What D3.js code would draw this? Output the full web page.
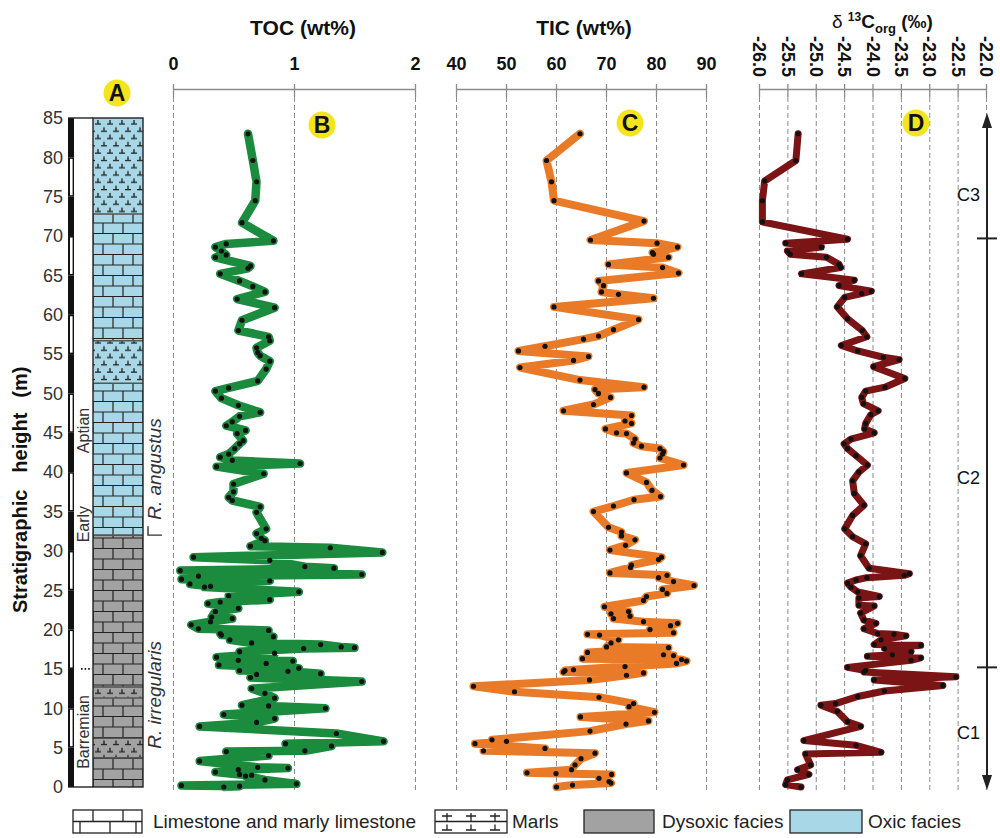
<!DOCTYPE html>
<html>
<head>
<meta charset="utf-8">
<script src="https://cdn.jsdelivr.net/npm/d3@7"></script>
<style>
  body { margin: 0; background: #fff; }
  svg { display: block; font-family: "Liberation Sans", Arial, sans-serif; }
</style>
</head>
<body>
<svg id="chart" width="1000" height="838"></svg>
<script>
// ---------------- data ----------------
// [stratigraphic height (m), TOC (wt%)]
const tocSamples = [
  [83.0,0.62],[79.6,0.66],[76.9,0.69],[74.5,0.68],[71.7,0.57],[69.4,0.83],[69.0,0.44],[68.6,0.35],
  [68.1,0.40],[67.6,0.44],[67.3,0.35],[66.2,0.64],[65.9,0.62],[65.2,0.39],[64.3,0.55],[63.6,0.66],
  [62.9,0.76],[62.0,0.53],[60.9,0.84],[59.3,0.57],[58.0,0.54],[57.2,0.79],[56.7,0.80],[55.8,0.69],
  [55.2,0.70],[54.8,0.72],[54.1,0.80],[53.1,0.77],[51.6,0.70],[50.7,0.46],[50.3,0.35],[49.4,0.40],
  [48.5,0.54],[47.6,0.72],[47.1,0.55],[46.4,0.49],[45.9,0.44],[45.3,0.60],[44.9,0.53],[44.0,0.58],
  [43.6,0.55],[43.0,0.51],[42.3,0.46],[41.9,0.39],[41.5,0.49],[41.1,1.05],[40.7,0.36],[39.8,0.75],
  [38.5,0.50],[37.5,0.50],[36.8,0.46],[36.4,0.49],[35.6,0.72],[34.9,0.69],[32.8,0.77],[32.2,0.69],
  [31.6,0.73],[31.3,0.76],[30.6,0.64],[30.4,1.30],[29.8,1.73],[29.2,0.17],[28.8,0.80],[28.0,1.09],
  [27.8,1.33],[27.5,0.06],[27.0,1.56],[26.8,0.21],[26.4,0.07],[26.2,0.80],[25.8,0.14],[25.5,0.31],
  [25.4,0.26],[24.8,1.04],[24.3,0.46],[23.8,0.80],[23.5,0.39],[23.3,0.29],[22.7,0.54],[22.3,0.35],
  [21.6,0.32],[21.4,0.49],[21.0,0.31],[20.6,0.15],[20.1,0.21],[19.9,0.79],[19.5,0.39],[19.3,0.40],
  [19.1,0.83],[18.7,0.47],[18.3,0.65],[18.1,1.22],[17.8,1.39],[17.7,1.50],[17.6,1.08],[17.2,0.55],
  [17.0,0.84],[16.5,0.36],[16.1,0.54],[16.0,0.99],[15.7,0.77],[15.5,0.38],[15.1,1.04],[14.8,0.55],
  [14.7,0.95],[14.4,1.22],[14.3,0.69],[13.9,0.64],[13.4,1.56],[12.5,0.65],[11.9,0.76],[11.3,0.84],
  [10.4,0.57],[10.3,0.79],[10.0,1.26],[9.2,0.42],[8.7,0.84],[8.2,0.69],[7.7,0.22],[6.8,1.35],
  [5.8,1.74],[5.5,0.93],[5.2,1.31],[4.6,1.09],[4.5,0.44],[4.0,0.79],[3.3,0.22],[2.5,0.70],
  [2.4,0.95],[2.2,0.54],[1.9,0.35],[1.6,0.55],[1.5,0.65],[1.4,0.60],[0.9,0.76],[0.4,1.02],
  [0.2,0.07],[0.1,0.55],[0.0,0.42]
];

// [stratigraphic height (m), TIC (wt%)]
const ticSamples = [
  [83.0,64.8],[79.6,58.1],[76.9,59.1],[74.5,59.6],[71.9,77.6],[69.5,66.9],[69.1,80.2],[68.6,84.3],
  [67.9,79.3],[67.7,79.5],[67.3,82.5],[66.4,70.5],[66.0,81.3],[65.3,84.5],[64.3,68.5],[63.7,69.5],
  [62.9,69.1],[62.6,72.5],[62.1,79.5],[61.0,59.6],[59.4,76.5],[58.1,71.5],[57.3,68.5],[56.9,65.5],
  [56.0,57.8],[55.4,52.5],[54.7,66.5],[54.2,63.5],[53.3,52.8],[51.7,64.8],[50.8,77.6],[50.5,67.8],
  [50.0,68.5],[49.5,70.9],[48.6,67.5],[47.8,61.5],[47.2,75.1],[46.5,73.8],[46.2,75.1],[45.5,69.9],
  [45.0,72.1],[44.9,74.1],[44.2,75.8],[43.7,75.5],[43.3,77.1],[43.0,80.8],[42.6,81.5],[42.3,81.3],
  [41.8,80.8],[40.9,85.5],[39.9,74.1],[38.7,78.1],[37.7,79.2],[36.9,80.9],[36.5,75.6],[35.7,71.5],
  [35.0,67.5],[33.0,70.5],[32.4,73.1],[31.9,73.1],[31.4,75.8],[30.7,73.9],[30.1,70.8],[29.2,81.1],
  [28.9,80.5],[28.2,75.1],[27.9,74.9],[27.2,70.8],[26.9,82.2],[26.6,80.5],[26.1,83.5],[25.6,87.6],
  [25.1,81.3],[24.6,82.2],[24.2,78.1],[23.7,77.5],[22.9,69.7],[22.3,74.5],[22.0,71.0],[21.7,74.8],
  [21.4,71.5],[21.0,77.5],[20.8,84.3],[20.5,82.9],[20.0,78.8],[19.6,83.5],[19.4,66.3],[19.3,68.7],
  [18.7,72.5],[18.3,71.0],[17.8,70.1],[17.7,82.5],[17.1,66.3],[16.8,81.5],[16.7,83.5],[16.3,65.3],
  [16.2,85.1],[16.0,86.1],[15.7,84.1],[15.3,73.8],[14.9,63.5],[14.8,61.8],[14.6,61.5],[14.5,77.5],
  [14.2,74.1],[13.6,66.7],[12.8,43.5],[12.1,51.7],[11.4,68.6],[10.6,75.5],[10.2,74.6],[9.5,79.7],
  [8.9,64.9],[8.4,78.5],[8.0,74.0],[7.1,66.8],[6.0,47.2],[5.8,50.1],[5.5,43.8],[4.9,57.8],
  [4.6,45.5],[4.3,67.8],[3.6,65.0],[2.8,63.8],[2.2,63.1],[1.8,54.2],[1.7,60.0],[1.6,71.1],
  [1.1,68.6],[0.7,70.6],[0.5,71.0],[0.25,63.3],[0.0,60.1]
];

// [stratigraphic height (m), δ13C org (‰)]
const d13cSamples = [
  [83.0,-25.31],[79.6,-25.35],[77.0,-25.90],[74.5,-25.94],[71.8,-25.94],[69.6,-24.44],[69.1,-25.53],
  [68.6,-24.90],[68.1,-25.50],[67.7,-25.45],[67.3,-24.81],[66.4,-24.59],[66.0,-24.56],[65.2,-25.25],
  [64.4,-24.32],[63.7,-24.59],[63.0,-24.02],[62.7,-24.19],[62.2,-24.49],[61.0,-24.62],[59.5,-24.44],
  [58.0,-24.18],[57.2,-24.10],[56.1,-24.55],[55.4,-24.26],[54.6,-23.81],[54.3,-23.53],[53.4,-23.98],
  [51.9,-23.43],[50.8,-23.78],[50.3,-24.12],[49.5,-24.19],[48.7,-24.16],[47.8,-23.90],[47.3,-24.03],
  [46.2,-24.12],[45.5,-24.14],[45.0,-23.97],[44.2,-24.38],[43.6,-24.50],[43.0,-24.44],[42.1,-24.29],
  [40.9,-24.09],[40.0,-24.24],[38.9,-24.35],[37.3,-24.32],[35.8,-24.15],[34.5,-24.35],[32.8,-24.49],
  [31.8,-24.35],[30.9,-24.12],[29.4,-24.21],[27.8,-24.06],[27.1,-23.35],[26.9,-23.44],[26.6,-24.10],
  [26.3,-24.29],[25.9,-24.44],[25.4,-24.38],[24.8,-24.26],[24.2,-23.88],[24.0,-24.24],[23.1,-24.24],
  [23.0,-23.97],[22.1,-24.21],[21.2,-24.15],[20.8,-23.94],[20.1,-24.15],[19.5,-23.91],[19.4,-23.62],
  [19.2,-23.41],[18.7,-23.85],[18.1,-23.97],[18.0,-23.15],[17.6,-23.79],[17.2,-23.32],[16.8,-23.65],
  [16.6,-24.09],[16.4,-23.15],[16.1,-23.32],[15.2,-24.44],[14.8,-24.12],[14.6,-24.15],[14.0,-22.53],
  [13.6,-23.97],[12.9,-22.76],[12.2,-23.79],[11.5,-24.26],[10.6,-24.65],[10.4,-24.91],[9.6,-24.62],
  [8.3,-24.44],[7.7,-24.21],[5.9,-25.21],[5.3,-24.29],[4.4,-23.85],[4.2,-25.18],[2.8,-25.09],
  [2.2,-25.32],[1.6,-25.12],[0.9,-25.50],[0.3,-25.53],[0.0,-25.26]
];

// tick values
const heightTicks = d3.range(0, 86, 5);
const tocTicks = [0, 1, 2];
const ticTicks = [40, 50, 60, 70, 80, 90];
const d13cTicks = d3.range(-26, -21.99, 0.5);

// lithological column units (m)
const lithoBase = [0, 3.7, 6.2, 11.3, 12.7, 32.0, 51.3, 56.7, 72.8];
const lithoTop  = [3.7, 6.2, 11.3, 12.7, 32.0, 51.3, 56.7, 72.8, 85];
const lithoRock = ["limestone","marls","limestone","marls","limestone","limestone","marls","limestone","marls"];
const faciesBoundary = 32.0;

// stage labels and ammonite zones [label, centre height]
const stageLabels = [["Barremian", 7.0], ["Early", 33.4], ["Aptian", 45.3]];
const zoneLabels = [["R. irregularis", 11.7], ["R. angustus", 40.4]];
const stageBoundary = 15.0;

// chemostratigraphic segments
const segmentBounds = [15.2, 69.7];
const segmentLabels = [["C1", 6.9], ["C2", 39.3], ["C3", 75.3]];

// ---------------- layout ----------------
const svg = d3.select("#chart");
const ink = "#222";
const gridCol = "#8c8c8c";
const font = "'Liberation Sans', Arial, sans-serif";
const colOxic = "#a8d8e7";
const colDys = "#a2a2a2";

const y = d3.scaleLinear().domain([0, 85]).range([787, 118]);
const xToc = d3.scaleLinear().domain([0, 2]).range([173, 415]);
const xTic = d3.scaleLinear().domain([40, 90]).range([456, 706]);
const xD13 = d3.scaleLinear().domain([-26, -22]).range([759, 986]);

const axisY = 89;
const gridBottom = 790;

// ---------------- patterns ----------------
const defs = svg.append("defs");
const colX = 93, colW = 50;

const brick = defs.append("pattern").attr("id", "brick")
  .attr("patternUnits", "userSpaceOnUse")
  .attr("x", colX).attr("y", y(85)).attr("width", 20).attr("height", 21);
brick.append("path")
  .attr("d", "M0,0H20M0,10.5H20M0,21H20M10,0V10.5M0,10.5V21M20,10.5V21")
  .attr("stroke", ink).attr("stroke-width", 1.2).attr("fill", "none");

const marl = defs.append("pattern").attr("id", "marl")
  .attr("patternUnits", "userSpaceOnUse")
  .attr("x", colX + 2).attr("y", y(85)).attr("width", 12).attr("height", 14.6);
marl.append("path")
  .attr("d", "M0,6H6M3,2V6M6,13.3H12M9,9.3V13.3")
  .attr("stroke", "#1c1c1c").attr("stroke-width", 1.3).attr("fill", "none");

// ---------------- axes & grid ----------------
function topAxis(scale, ticks, fmt) {
  const g = svg.append("g")
    .attr("transform", `translate(0,${axisY})`)
    .call(d3.axisTop(scale).tickValues(ticks).tickFormat(fmt)
      .tickSizeInner(5).tickSizeOuter(0).tickPadding(14));
  g.attr("font-family", font).attr("font-size", 18);
  g.select(".domain").attr("stroke", gridCol).attr("stroke-width", 1.6);
  g.selectAll(".tick line").attr("stroke", gridCol).attr("stroke-width", 1.3)
    .attr("y1", 8).attr("y2", -5);
  g.selectAll(".tick").append("line")
    .attr("y1", 8).attr("y2", gridBottom - axisY)
    .attr("stroke", gridCol).attr("stroke-width", 1)
    .attr("stroke-dasharray", "5,3");
  g.selectAll(".tick text").attr("font-weight", "bold").attr("fill", "#111");
  return g;
}
topAxis(xToc, tocTicks, d => String(d));
topAxis(xTic, ticTicks, d => String(d));
const gD = topAxis(xD13, d13cTicks, d => d.toFixed(1));
gD.selectAll(".tick text")
  .attr("y", 0).attr("dy", "0.35em")
  .attr("text-anchor", "end")
  .attr("transform", "translate(0,-12) rotate(90)");

// axis titles
svg.append("text").attr("x", 303).attr("y", 35).attr("text-anchor", "middle")
  .attr("font-size", 21).attr("font-weight", "bold").attr("fill", "#111").text("TOC (wt%)");
svg.append("text").attr("x", 584).attr("y", 35).attr("text-anchor", "middle")
  .attr("font-size", 21).attr("font-weight", "bold").attr("fill", "#111").text("TIC (wt%)");
const dt = svg.append("text").attr("x", 832).attr("y", 28).attr("font-size", 19).attr("fill", "#111");
dt.append("tspan").text("δ ");
dt.append("tspan").attr("font-size", 12).attr("font-weight", "bold").attr("dy", -7).text("13");
dt.append("tspan").attr("font-weight", "bold").attr("dy", 7).text("C");
dt.append("tspan").attr("font-size", 13).attr("font-weight", "bold").attr("dy", 5).text("org");
dt.append("tspan").attr("font-weight", "bold").attr("dy", -5).text(" (‰)");

// ---------------- lithology column ----------------
const lith = svg.append("g");
lithoBase.forEach((b, i) => {
  const t = lithoTop[i];
  const fill = b >= faciesBoundary ? colOxic : colDys;
  lith.append("rect").attr("x", colX).attr("y", y(t)).attr("width", colW)
    .attr("height", y(b) - y(t)).attr("fill", fill);
  lith.append("rect").attr("x", colX).attr("y", y(t)).attr("width", colW)
    .attr("height", y(b) - y(t))
    .attr("fill", lithoRock[i] === "marls" ? "url(#marl)" : "url(#brick)");
});
lith.selectAll("line.unit").data(lithoBase.slice(1)).join("line")
  .attr("x1", colX).attr("x2", colX + colW)
  .attr("y1", d => y(d)).attr("y2", d => y(d))
  .attr("stroke", "#555").attr("stroke-width", 1.6);
lith.append("rect").attr("x", colX).attr("y", y(85)).attr("width", colW)
  .attr("height", y(0) - y(85)).attr("fill", "none").attr("stroke", ink).attr("stroke-width", 1.4);

// metre scale bar
const barX = 68, barW = 6;
heightTicks.slice(0, -1).forEach((h, i) => {
  lith.append("rect").attr("x", barX).attr("y", y(h + 5)).attr("width", barW)
    .attr("height", y(h) - y(h + 5)).attr("fill", "#111");
  if (i % 2 === 1) {
    lith.append("rect").attr("x", barX + 2).attr("y", y(h + 5) + 1.5).attr("width", barW - 3.4)
      .attr("height", y(h) - y(h + 5) - 3).attr("fill", "#fff");
  }
});
lith.append("line").attr("x1", barX).attr("x2", colX).attr("y1", y(85)).attr("y2", y(85))
  .attr("stroke", ink).attr("stroke-width", 1.4);
lith.append("line").attr("x1", barX).attr("x2", colX).attr("y1", y(0)).attr("y2", y(0))
  .attr("stroke", ink).attr("stroke-width", 1.4);

// height axis labels
const gY = svg.append("g").attr("transform", `translate(${barX},0)`)
  .call(d3.axisLeft(y).tickValues(heightTicks).tickSize(0).tickPadding(5));
gY.attr("font-family", font).attr("font-size", 18);
gY.select(".domain").remove();
gY.selectAll(".tick text").attr("fill", "#333");

const yt = svg.append("text").attr("transform", "translate(27,613) rotate(-90)")
  .attr("font-size", 20).attr("font-weight", "bold").attr("fill", "#111");
yt.append("tspan").text("Stratigraphic");
yt.append("tspan").attr("dx", 17).text("height");
yt.append("tspan").attr("dx", 15).text("(m)");

// stages
svg.selectAll("text.stage").data(stageLabels).join("text")
  .attr("transform", d => `translate(83.5,${y(d[1])}) rotate(-90)`)
  .attr("text-anchor", "middle").attr("dy", "0.35em")
  .attr("font-size", 16).attr("fill", "#333").text(d => d[0]);
svg.append("line").attr("x1", 81).attr("x2", 92)
  .attr("y1", y(stageBoundary)).attr("y2", y(stageBoundary))
  .attr("stroke", "#111").attr("stroke-width", 1.8).attr("stroke-dasharray", "1.6,2");

// ammonite zones
svg.selectAll("text.zone").data(zoneLabels).join("text")
  .attr("transform", d => `translate(154,${y(d[1])}) rotate(-90)`)
  .attr("text-anchor", "middle").attr("dy", "0.35em")
  .attr("font-size", 19).attr("font-style", "italic").attr("fill", "#333").text(d => d[0]);
svg.append("path")
  .attr("d", `M148,${y(faciesBoundary) - 9}V${y(faciesBoundary)}H162`)
  .attr("fill", "none").attr("stroke", "#333").attr("stroke-width", 1.4);

// ---------------- curves ----------------
function curve(data, xs, color, width) {
  const line = d3.line().x(d => xs(d[1])).y(d => y(d[0]));
  svg.append("path").datum(data).attr("d", line)
    .attr("fill", "none").attr("stroke", color).attr("stroke-width", width)
    .attr("stroke-linejoin", "round").attr("stroke-linecap", "round");
  svg.append("g").selectAll("circle").data(data).join("circle")
    .attr("cx", d => xs(d[1])).attr("cy", d => y(d[0])).attr("r", 2.6).attr("fill", "#111");
}
curve(tocSamples, xToc, "#1b8b3e", 8.5);
curve(ticSamples, xTic, "#e97a27", 8);
curve(d13cSamples, xD13, "#7b1414", 7);

// ---------------- panel badges ----------------
const badges = [["A", 117, 93], ["B", 322, 125], ["C", 630, 123], ["D", 916, 123]];
badges.forEach(([t, bx, by]) => {
  svg.append("circle").attr("cx", bx).attr("cy", by).attr("r", 13.5).attr("fill", "#f3e41b");
  svg.append("text").attr("x", bx).attr("y", by).attr("dy", "0.36em")
    .attr("text-anchor", "middle").attr("font-size", 23).attr("font-weight", "bold")
    .attr("fill", "#111").text(t);
});

// ---------------- segment arrow ----------------
const arX = 987;
const arTop = y(85) - 5, arBot = y(0) + 3;
svg.append("line").attr("x1", arX).attr("x2", arX).attr("y1", arTop + 10).attr("y2", arBot - 10)
  .attr("stroke", ink).attr("stroke-width", 2);
svg.append("path").attr("d", `M${arX},${arTop}L${arX - 5},${arTop + 15}L${arX + 5},${arTop + 15}Z`).attr("fill", ink);
svg.append("path").attr("d", `M${arX},${arBot}L${arX - 5},${arBot - 15}L${arX + 5},${arBot - 15}Z`).attr("fill", ink);
svg.selectAll("line.seg").data(segmentBounds).join("line")
  .attr("x1", arX - 10).attr("x2", arX + 10)
  .attr("y1", d => y(d)).attr("y2", d => y(d))
  .attr("stroke", ink).attr("stroke-width", 2);
svg.selectAll("text.seg").data(segmentLabels).join("text")
  .attr("x", 980).attr("y", d => y(d[1])).attr("dy", "0.35em")
  .attr("text-anchor", "end").attr("font-size", 18).attr("fill", "#111").text(d => d[0]);

// ---------------- legend ----------------
const lg = svg.append("g").attr("stroke", ink).attr("stroke-width", 1.3).attr("fill", "none");
const ly = 810, lh = 23;
lg.append("rect").attr("x", 73).attr("y", ly).attr("width", 69).attr("height", lh).attr("fill", "#fff");
lg.append("path").attr("d",
  `M73,${ly + lh / 2}H142M93,${ly}V${ly + lh / 2}M123,${ly}V${ly + lh / 2}` +
  `M80,${ly + lh / 2}V${ly + lh}M110,${ly + lh / 2}V${ly + lh}M136,${ly + lh / 2}V${ly + lh}`);
lg.append("rect").attr("x", 435).attr("y", ly).attr("width", 72).attr("height", lh).attr("fill", "#fff");
let mp = `M435,${ly + lh / 2}H507`;
[447, 471, 495].forEach(cx => {
  mp += `M${cx - 5},${ly + 6}H${cx + 5}M${cx},${ly + 3}V${ly + lh / 2}`;
  mp += `M${cx - 5},${ly + lh - 3}H${cx + 5}M${cx},${ly + lh / 2 + 3}V${ly + lh - 3}`;
});
lg.append("path").attr("d", mp);
lg.append("rect").attr("x", 584).attr("y", ly).attr("width", 70).attr("height", lh).attr("fill", colDys);
lg.append("rect").attr("x", 790).attr("y", ly).attr("width", 72).attr("height", lh).attr("fill", colOxic);

const legendText = [["Limestone and marly limestone", 153], ["Marls", 512], ["Dysoxic facies", 662], ["Oxic facies", 868]];
svg.selectAll("text.lg").data(legendText).join("text")
  .attr("x", d => d[1]).attr("y", ly + lh / 2).attr("dy", "0.36em")
  .attr("font-size", 19).attr("fill", "#222").text(d => d[0]);
</script>
</body>
</html>
